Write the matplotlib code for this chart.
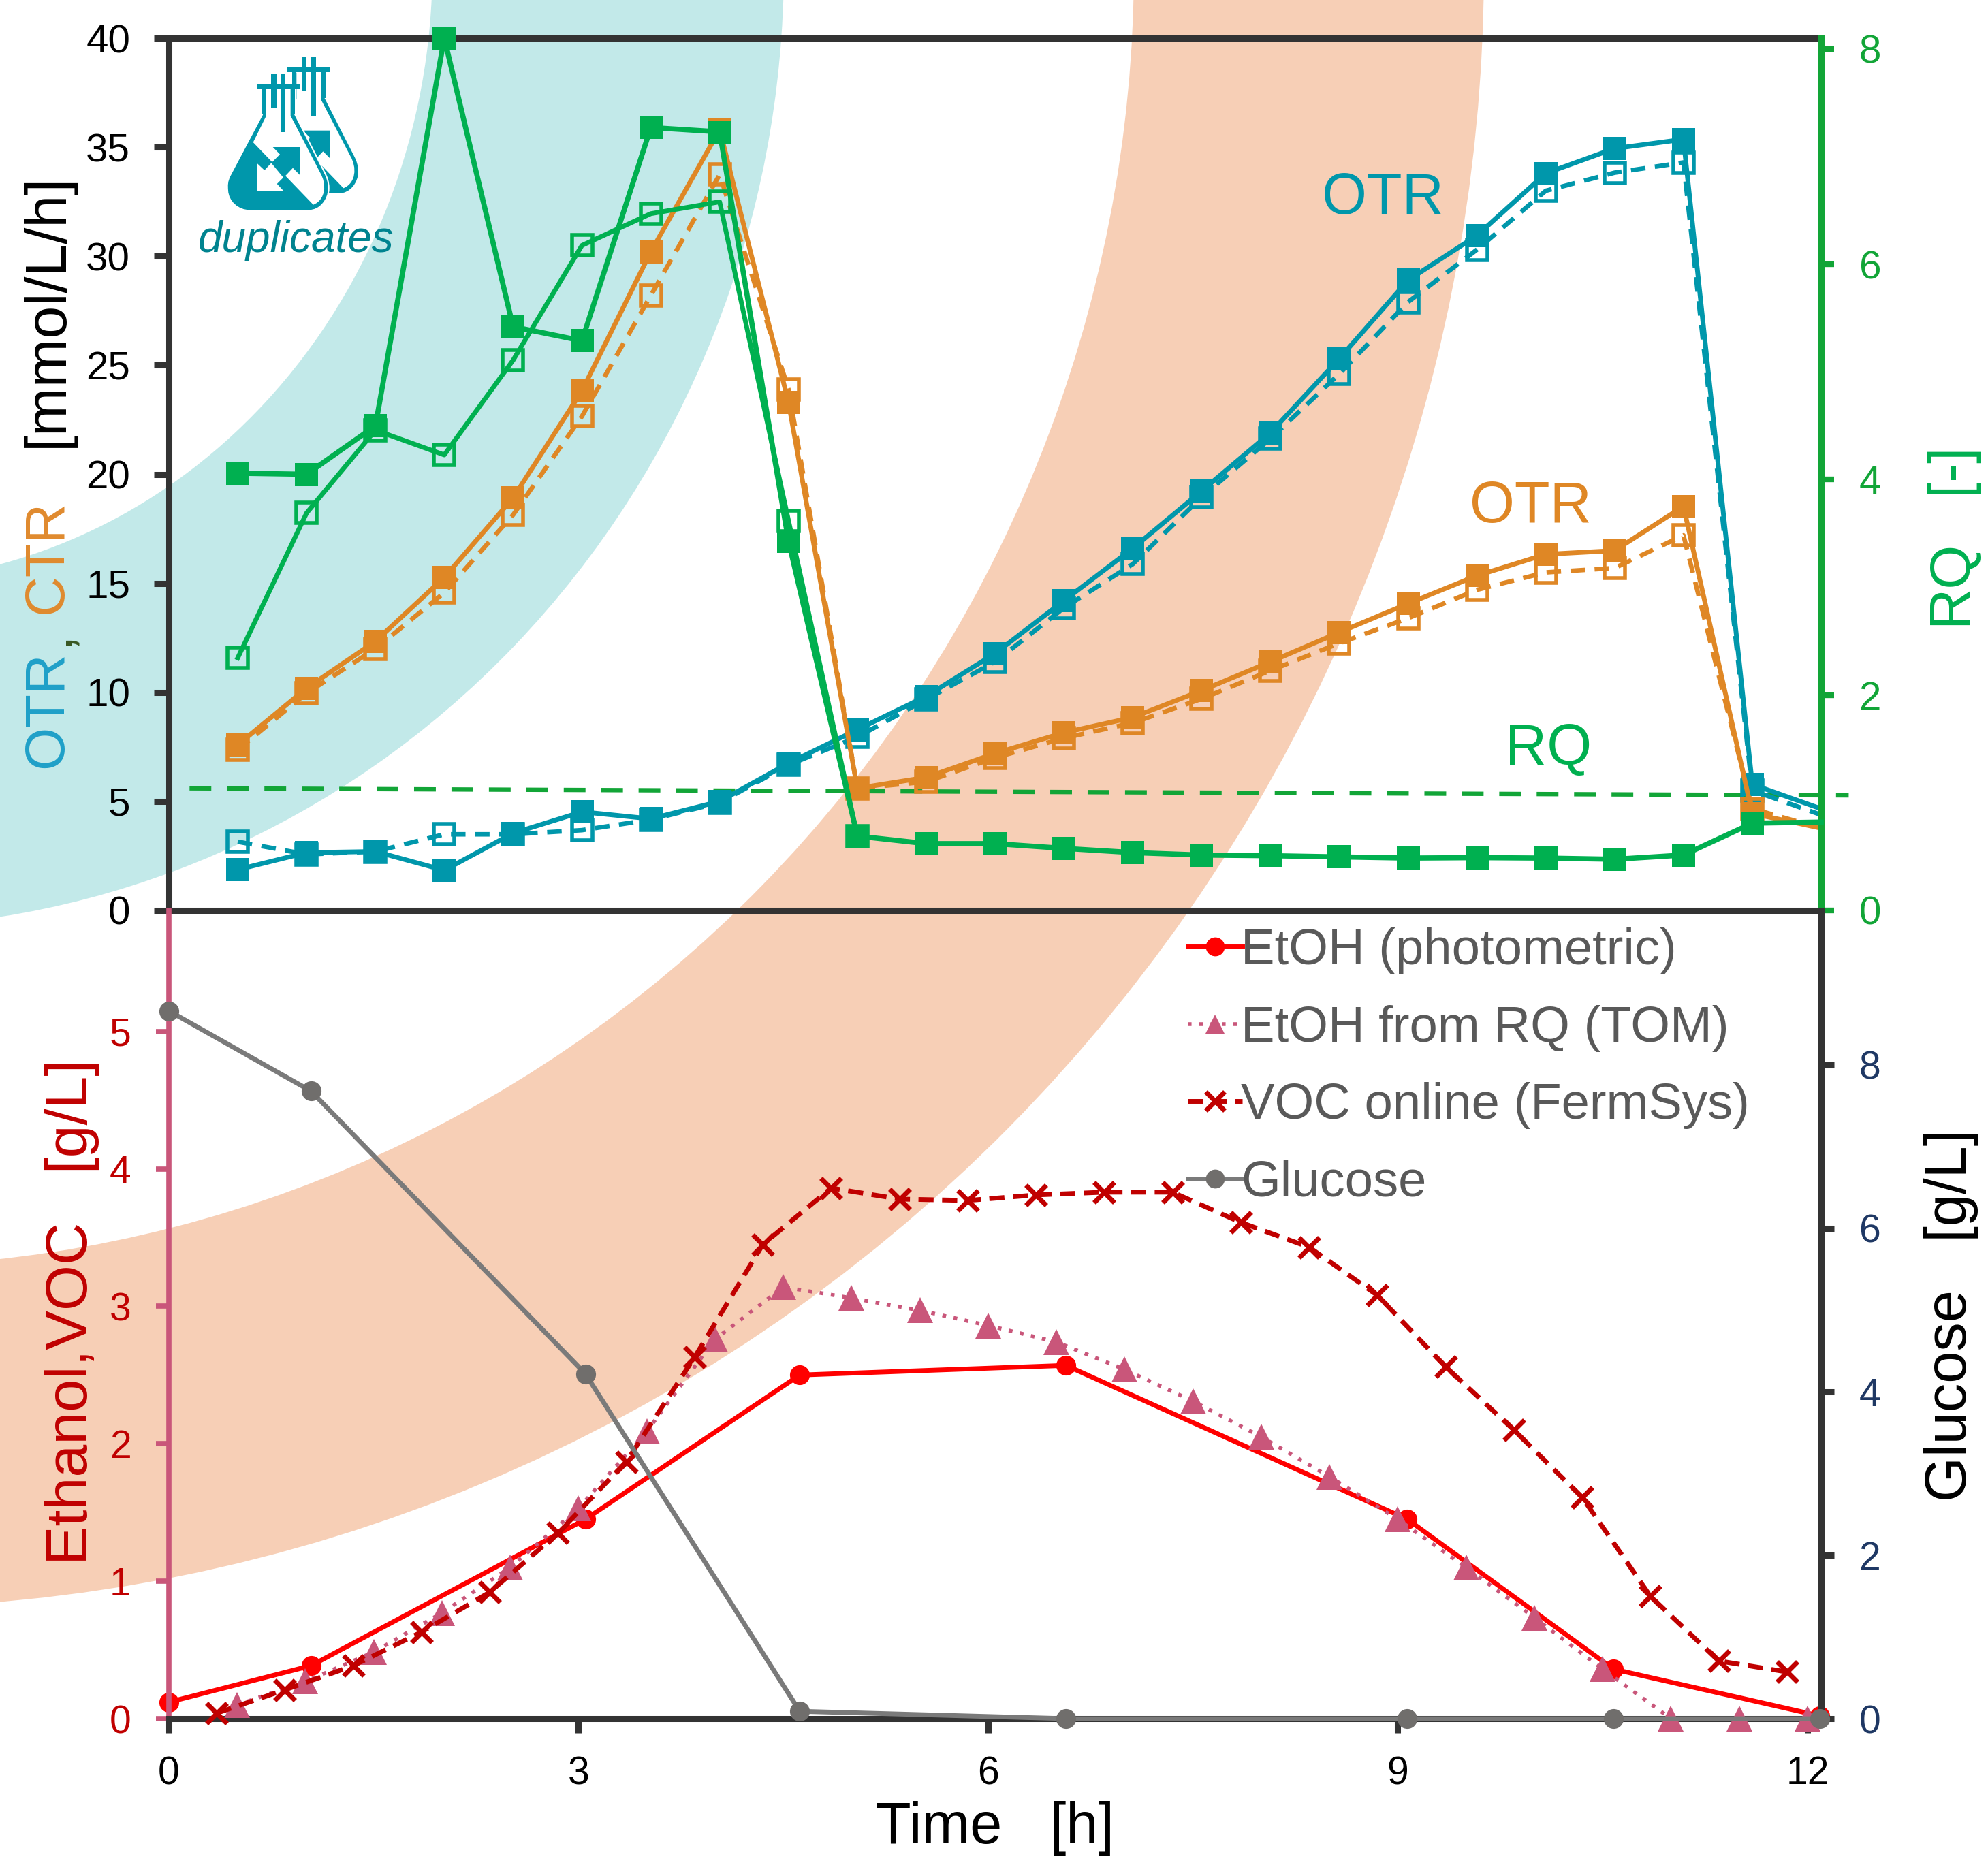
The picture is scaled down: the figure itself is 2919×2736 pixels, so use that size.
import matplotlib
matplotlib.use("Agg")
import matplotlib.pyplot as plt
from matplotlib.patches import Ellipse, PathPatch, Polygon, Rectangle
from matplotlib.path import Path

plt.rcParams["font.family"] = ["Liberation Sans", "DejaVu Sans"]

W = 2919
H = 2736

# upper panel, one value every half hour
time_up = [0.5 * k for k in range(1, 25)]
otr_a = [1.87, 2.65, 2.7, 1.84, 3.54, 4.52, 4.2, 5.0, 6.75, 8.29, 9.82, 11.78, 14.2, 16.6, 19.23, 21.9,
         25.3, 28.9, 30.95, 33.8, 34.94, 35.36, 5.78, 4.66]
otr_b = [3.15, 2.57, 2.7, 3.49, 3.49, 3.68, 4.16, 4.94, 6.67, 7.95, 9.68, 11.4, 13.87, 15.88, 18.95, 21.63,
         24.6, 27.9, 30.3, 33.0, 33.83, 34.3, 5.5, 4.38]
ctr_a = [7.59, 10.19, 12.34, 15.27, 18.92, 23.83, 30.2, 35.8, 23.3, 5.6, 6.1, 7.2, 8.15, 8.85, 10.08, 11.4,
         12.75, 14.07, 15.35, 16.33, 16.5, 18.53, 4.44, 3.77]
ctr_b = [7.37, 9.96, 12.0, 14.57, 18.14, 22.66, 28.2, 33.74, 23.9, 5.6, 5.9, 7.0, 7.9, 8.6, 9.7, 11.0,
         12.25, 13.4, 14.7, 15.5, 15.7, 17.2, 4.66, 3.77]
rq_a = [4.06, 4.05, 4.5, 8.1, 5.42, 5.29, 7.27, 7.23, 3.43, 0.69, 0.62, 0.62, 0.576, 0.537, 0.514, 0.508,
        0.497, 0.486, 0.49, 0.486, 0.475, 0.514, 0.81, 0.82]
rq_b = [2.345, 3.69, 4.46, 4.23, 5.11, 6.175, 6.47, 6.58, 3.62, 0.69]
rq_one_x = [0.15, 12.2]
rq_one_y = [1.12, 1.055]

# lower panel
time_etoh = [0, 1.04, 3.05, 4.62, 6.57, 9.07, 10.58, 12.09]
etoh = [0.12, 0.385, 1.45, 2.5, 2.57, 1.45, 0.36, 0.02]
glucose = [8.66, 7.68, 4.22, 0.09, 0, 0, 0, 0]
time_tom = [0.5 * k for k in range(1, 25)]
etoh_tom = [0.1, 0.27, 0.485, 0.77, 1.1, 1.53, 2.09, 2.76, 3.14, 3.06, 2.97, 2.86, 2.74, 2.54, 2.31, 2.05,
            1.76, 1.45, 1.1, 0.735, 0.36, 0, 0, 0]
time_voc = [0.35 + 0.5 * k for k in range(24)]
voc = [0.04, 0.21, 0.385, 0.63, 0.92, 1.35, 1.87, 2.63, 3.45, 3.86, 3.78, 3.77, 3.81, 3.83, 3.83, 3.61,
       3.43, 3.08, 2.56, 2.1, 1.61, 0.89, 0.42, 0.34]

teal = "#0097AB"
orange = "#DF8725"
green = "#00B050"
axis_green = "#12A537"
dark = "#333333"
pink = "#C9567A"
darkred = "#C00000"
navy = "#1F3864"
grey = "#7A7A7A"

fig = plt.figure(figsize=(W / 100, H / 100), dpi=100)


def make_axes(left, top, right, bottom):
    return fig.add_axes([left / W, 1 - bottom / H, (right - left) / W, (bottom - top) / H])


# background rings
bg = make_axes(0, 0, W, H)
bg.set_xlim(0, W)
bg.set_ylim(H, 0)
bg.axis("off")
for a, b, col in [(2379, 2411, "#F7CFB6"), (1865, 1910, "white"), (1351, 1412, "#C2E9E9"), (835, 905, "white")]:
    bg.add_patch(Ellipse((-200, -50), 2 * a, 2 * b, facecolor=col, edgecolor="none"))

# upper panel
ax_up = make_axes(248, 56, 2674, 1337)
ax_up.patch.set_alpha(0)
ax_up.set_xlim(0, 12)
ax_up.set_ylim(0, 40)
ax_rq = ax_up.twinx()
ax_rq.set_ylim(0, 8.1)

msk = list(range(23))
ax_up.plot(rq_one_x, [v * 5 for v in rq_one_y], color=axis_green, lw=4.6, ls=(0, (5, 3.6)), clip_on=False, zorder=1)
for a, b, col in [(otr_a, otr_b, teal), (ctr_a, ctr_b, orange)]:
    ax_up.plot(time_up, b, color=col, lw=4.8, ls=(0, (3.2, 2.1)), marker="s", ms=21, mfc="none", mec=col, mew=4,
               markevery=msk, clip_on=False, zorder=2)
    ax_up.plot(time_up, a, color=col, lw=5, marker="s", ms=25, mfc=col, mec=col, mew=0,
               markevery=msk, clip_on=False, zorder=3)
ax_rq.plot(time_up[:10], rq_b, color=green, lw=5, marker="s", ms=21, mfc="none", mec=green, mew=4,
           clip_on=False, zorder=2)
ax_rq.plot(time_up, rq_a, color=green, lw=5.5, marker="s", ms=25, mfc=green, mec=green, mew=0,
           markevery=msk, clip_on=False, zorder=3)

ax_up.set_xticks([])
ax_up.set_yticks(range(0, 41, 5))
ax_rq.set_yticks(range(0, 9, 2))
ax_up.tick_params(axis="y", length=16, width=6.5, color=dark, labelsize=42, pad=25, labelcolor="black")
ax_rq.tick_params(axis="y", length=14, width=6, color=axis_green, labelsize=42, pad=26, labelcolor=axis_green)
for name in ["top", "left", "bottom"]:
    ax_rq.spines[name].set_visible(False)
    ax_up.spines[name].set_linewidth(6.5)
    ax_up.spines[name].set_color(dark)
ax_up.spines["right"].set_visible(False)
ax_rq.spines["right"].set_color(axis_green)
ax_rq.spines["right"].set_linewidth(6.5)

# lower panel
ax_low = make_axes(248, 1337, 2674, 2524)
ax_low.patch.set_alpha(0)
ax_low.set_xlim(0, 12.1)
ax_low.set_ylim(0, 5.88)
ax_glu = ax_low.twinx()
ax_glu.set_ylim(0, 9.89)

line_tom, = ax_low.plot(time_tom, etoh_tom, color=pink, lw=4, ls=(0, (1, 2)), marker="^", ms=27, mfc=pink,
                        mec=pink, mew=0, clip_on=False, zorder=3, label="EtOH from RQ (TOM)")
line_voc, = ax_low.plot(time_voc, voc, color=darkred, lw=5, ls=(0, (3.2, 1.8)), marker="x", ms=21, mew=5,
                        clip_on=False, zorder=4, label="VOC online (FermSys)")
line_etoh, = ax_low.plot(time_etoh, etoh, color="#FF0000", lw=5, marker="o", ms=21, mfc="#FF0000", mew=0,
                         clip_on=False, zorder=2, label="EtOH (photometric)")
line_glu, = ax_glu.plot(time_etoh, glucose, color=grey, lw=5, marker="o", ms=21, mfc="#706E6C", mew=0,
                        clip_on=False, zorder=5, label="Glucose")

ax_low.set_xticks([0, 3, 6, 9, 12])
ax_low.set_yticks(range(6))
ax_low.set_yticklabels(["0", "1", "2", "3", "4", "5"])
ax_glu.set_yticks(range(0, 9, 2))
ax_low.tick_params(axis="x", length=15, width=6.5, color=dark, labelsize=41, pad=24, labelcolor="black")
ax_low.tick_params(axis="y", length=14, width=5.5, color=pink, labelsize=41, pad=26, labelcolor=darkred)
ax_glu.tick_params(axis="y", length=14, width=6.5, color=dark, labelsize=41, pad=26, labelcolor=navy)
ax_low.spines["top"].set_visible(False)
ax_low.spines["right"].set_visible(False)
ax_low.spines["left"].set_color(pink)
ax_low.spines["left"].set_linewidth(5.5)
ax_low.spines["bottom"].set_color(dark)
ax_low.spines["bottom"].set_linewidth(6.5)
for name in ["top", "left", "bottom"]:
    ax_glu.spines[name].set_visible(False)
ax_glu.spines["right"].set_color(dark)
ax_glu.spines["right"].set_linewidth(6.5)

leg = ax_glu.legend(handles=[line_etoh, line_tom, line_voc, line_glu], frameon=False, fontsize=53.5,
                    loc="upper left", bbox_to_anchor=((1744 - 248) / 2426, 0.979), borderaxespad=0, borderpad=0,
                    handlelength=1.08, handletextpad=-0.03, labelspacing=0.6, labelcolor="#595959")
for h in leg.legend_handles:
    h.set_markersize(20)

# text and icon on top, in picture pixels
top = make_axes(0, 0, W, H)
top.set_xlim(0, W)
top.set_ylim(H, 0)
top.axis("off")
top.patch.set_alpha(0)


def put(x, y, s, col, size, rot=0, **kw):
    top.text(x, y, s, color=col, fontsize=size, rotation=rot, ha="center", va="center", **kw)


put(70, 1042, "OTR", "#1FA0C8", 58.5, 90)
put(78, 937, ",", "#385723", 58, 90)
put(70, 817, "CTR", "#E08A2E", 58.5, 90)
put(70, 456, "[mmol/L/h]", "black", 62, 90)
put(2864, 855, "RQ", green, 60, 90)
put(2864, 688, "[-]", green, 60, 90)
put(106, 1927, "Ethanol,VOC   [g/L]", darkred, 62, 90)
put(2865, 1932, "Glucose   [g/L]", "black", 61, 90)
put(1461, 2685, "Time   [h]", "black", 61)
put(2030, 292, "OTR", teal, 61)
put(2247, 745, "OTR", orange, 61)
put(2274, 1101, "RQ", green, 61)
put(435, 353, "duplicates", "#00838F", 46, style="italic")


def px(x, y):
    return (250 + x / 3, 50 + y / 3)


def flask(dx, dy):
    def p(x, y):
        return px(x + dx, y + dy)

    verts = [p(405, 240), p(405, 355), p(262, 625), p(250, 650), p(250, 665), p(252, 690),
             p(255, 740), p(300, 778), p(350, 778), p(610, 778), p(660, 778), p(698, 730), p(698, 680),
             p(698, 650), p(690, 630), p(680, 610), p(550, 355), p(550, 240), p(405, 240)]
    codes = [Path.MOVETO, Path.LINETO, Path.LINETO, Path.CURVE4, Path.CURVE4, Path.CURVE4,
             Path.CURVE4, Path.CURVE4, Path.CURVE4, Path.LINETO, Path.CURVE4, Path.CURVE4, Path.CURVE4,
             Path.CURVE4, Path.CURVE4, Path.CURVE4, Path.LINETO, Path.LINETO, Path.CLOSEPOLY]
    top.add_patch(PathPatch(Path(verts, codes), facecolor=teal, edgecolor="white", lw=1.5))
    inner = [p(423, 240), p(423, 360), p(365, 477), p(630, 752), p(685, 730), p(690, 660), p(660, 610),
             p(530, 360), p(530, 240), p(423, 240)]
    inner_codes = [Path.MOVETO, Path.LINETO, Path.LINETO, Path.LINETO, Path.CURVE4, Path.CURVE4, Path.CURVE4,
                   Path.LINETO, Path.LINETO, Path.CLOSEPOLY]
    top.add_patch(PathPatch(Path(inner, inner_codes), facecolor="white", edgecolor="none"))
    top.add_patch(Polygon([p(570, 498), p(452, 498), p(483, 530), p(445, 568), p(505, 627), p(540, 590), p(570, 620)],
                          facecolor=teal, edgecolor="none"))
    top.add_patch(Polygon([p(383, 692), p(383, 570), p(415, 600), p(445, 568), p(498, 632), p(470, 660), p(500, 692)],
                          facecolor="white", edgecolor="none"))
    for x0, y0, x1, y1 in [(383, 218, 570, 240), (445, 175, 467, 325), (488, 175, 508, 433),
                           (405, 240, 423, 355), (530, 240, 550, 355)]:
        a = p(x0, y0)
        b = p(x1, y1)
        top.add_patch(Rectangle(a, b[0] - a[0], b[1] - a[1], facecolor=teal, edgecolor="none"))


flask(133, -73)
flask(0, 0)

fig.savefig("out.png", dpi=100)
